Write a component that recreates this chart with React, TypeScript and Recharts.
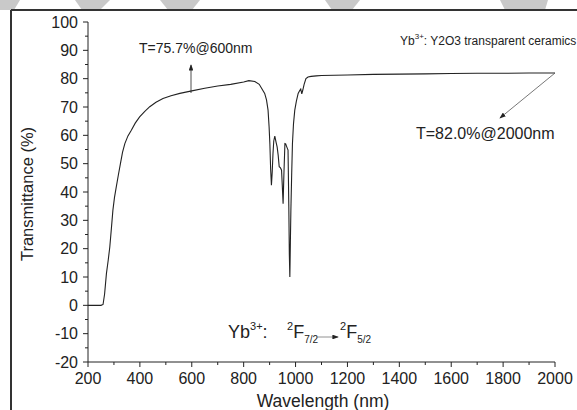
import { LineChart, Line, XAxis, YAxis } from 'recharts';

// wavelength (nm) and transmittance (%)
const wavelength = [
  200, 250, 258, 264, 271, 278, 284, 290, 296, 302, 309, 317, 325, 333, 342, 354, 367, 382, 399, 418,
  438, 462, 489, 520, 554, 600, 650, 700, 750, 800, 820, 843, 860, 869, 881, 888, 894, 898, 901, 904,
  907, 910, 913, 916, 920, 925, 929, 933, 937, 942, 946, 949, 952, 955, 959, 962, 965, 968, 971, 974,
  976, 978, 980, 982, 985, 988, 992, 997, 1003, 1010, 1016, 1020, 1024, 1028, 1033, 1040, 1048, 1060,
  1080, 1100, 1200, 1300, 1400, 1500, 1600, 1700, 1800, 1900, 2000,
];
const transmittance = [
  0, 0, 0.3, 4, 11.2, 16, 20.6, 27, 33.6, 38, 41.8, 46, 50, 54, 57.1, 59.8, 61.8, 64.3, 66.5, 68.4,
  70.1, 71.7, 73, 74, 74.8, 75.7, 76.6, 77.4, 78, 78.8, 79.3, 79, 78, 76.6, 74.8, 72.5, 68.9, 63, 57, 48,
  42.4, 47, 53.6, 58, 59.7, 57.5, 55.9, 53, 48.9, 48.5, 47.7, 42, 35.9, 46, 57.1, 57, 56.2, 55.5, 54.8, 35,
  18, 10, 22, 33.6, 46, 57, 64, 68.9, 72, 74.8, 75.8, 76.3, 74.6, 76, 78, 80, 80.6, 80.8,
  81, 81.1, 81.3, 81.5, 81.6, 81.7, 81.8, 81.9, 81.9, 82, 82,
];

const xTicks = [200, 300, 400, 500, 600, 700, 800, 900, 1000, 1100, 1200, 1300, 1400, 1500, 1600, 1700, 1800, 1900, 2000];
const yTicks = [-20, -15, -10, -5, 0, 5, 10, 15, 20, 25, 30, 35, 40, 45, 50, 55, 60, 65, 70, 75, 80, 85, 90, 95, 100];

const data = wavelength.map((w, i) => ({ w, t: transmittance[i] }));

const FONT = '"Liberation Sans", Arial, sans-serif';
const INK = '#222';

function XTick({ x, y, payload }: any) {
  const major = payload.value % 200 === 0;
  return (
    <g>
      <line x1={x} y1={y} x2={x} y2={y + (major ? 5 : 3)} stroke={INK} strokeWidth={1} />
      {major && (
        <text x={x} y={y + 22} textAnchor="middle" fontSize={16} fontFamily={FONT} fill={INK}>
          {payload.value}
        </text>
      )}
    </g>
  );
}

function YTick({ x, y, payload }: any) {
  const major = payload.value % 10 === 0;
  return (
    <g>
      <line x1={x} y1={y} x2={x - (major ? 5 : 3)} y2={y} stroke={INK} strokeWidth={1} />
      {major && (
        <text x={x - 10} y={y} dy="0.35em" textAnchor="end" fontSize={16} fontFamily={FONT} fill={INK}>
          {payload.value}
        </text>
      )}
    </g>
  );
}

export default function App() {
  return (
    <div style={{ position: 'absolute', left: 0, top: 0, width: 577, height: 410, background: '#fff', overflow: 'hidden' }}>
      <svg width={577} height={410} style={{ position: 'absolute', left: 0, top: 0 }}>
        <polygon points="0,0 20,0 14,10 0,10" fill="#c9c9c9" />
        <polygon points="75,0 110,0 100,10 82,10" fill="#c9c9c9" />
        <polygon points="160,0 200,0 192,10 168,10" fill="#c9c9c9" />
        <polygon points="325,0 360,0 352,10 332,10" fill="#c9c9c9" />
        <polygon points="500,0 548,0 545,10 505,10" fill="#c9c9c9" />
        <line x1={11} y1={10} x2={577} y2={10} stroke="#333" strokeWidth={2} />
        <line x1={11} y1={10} x2={11} y2={410} stroke="#333" strokeWidth={2} />
      </svg>
      <div style={{ position: 'absolute', left: 0, top: 0 }}>
        <LineChart width={577} height={410} data={data} margin={{ top: 22, right: 22, left: 28, bottom: 18 }}>
          <XAxis
            dataKey="w"
            type="number"
            domain={[200, 2000]}
            ticks={xTicks}
            interval={0}
            tick={<XTick />}
            tickSize={0}
            tickMargin={0}
            tickLine={false}
            height={30}
            axisLine={{ stroke: INK, strokeWidth: 1 }}
            allowDataOverflow
          />
          <YAxis
            type="number"
            domain={[-20, 100]}
            ticks={yTicks}
            interval={0}
            tick={<YTick />}
            tickSize={0}
            tickMargin={0}
            tickLine={false}
            width={60}
            axisLine={{ stroke: INK, strokeWidth: 1 }}
            allowDataOverflow
          />
          <Line dataKey="t" type="linear" stroke={INK} strokeWidth={1.1} dot={false} isAnimationActive={false} />
        </LineChart>
      </div>
      <svg width={577} height={410} style={{ position: 'absolute', left: 0, top: 0, pointerEvents: 'none' }}>
        <defs>
          <marker id="ah" markerWidth="8" markerHeight="6" refX="7" refY="3" orient="auto">
            <path d="M0,0 L8,3 L0,6 z" fill={INK} />
          </marker>
        </defs>
        <g fontFamily={FONT} fill={INK}>
          <text x={27} y={194} textAnchor="middle" fontSize={16.5} transform="rotate(-90 27 194)" dy="0.35em">
            Transmittance (%)
          </text>
          <text x={323} y={407} textAnchor="middle" fontSize={17.5}>Wavelength (nm)</text>

          <text x={139} y={53} fontSize={14}>T=75.7%@600nm</text>
          <line x1={191} y1={93} x2={191} y2={65} stroke={INK} strokeWidth={0.8} markerEnd="url(#ah)" />

          <text x={400} y={45} fontSize={12}>
            Yb<tspan fontSize={8} dy={-6}>3+</tspan><tspan fontSize={12} dy={6}>: Y2O3 transparent ceramics</tspan>
          </text>

          <line x1={555} y1={73} x2={500} y2={118} stroke="#555" strokeWidth={0.8} markerEnd="url(#ah)" />
          <text x={416} y={139} fontSize={16}>T=82.0%@2000nm</text>

          <text x={228} y={338} fontSize={18}>
            Yb<tspan fontSize={11} dy={-8}>3+</tspan><tspan dy={8}>:</tspan>
          </text>
          <text x={287} y={338} fontSize={18}>
            <tspan fontSize={11} dy={-8}>2</tspan><tspan dy={8}>F</tspan>
            <tspan fontSize={10} dy={5}>7/2</tspan>
          </text>
          <line x1={316} y1={337} x2={338} y2={337} stroke="#777" strokeWidth={0.8} markerEnd="url(#ah)" />
          <text x={340} y={338} fontSize={18}>
            <tspan fontSize={11} dy={-8}>2</tspan><tspan dy={8}>F</tspan>
            <tspan fontSize={10} dy={5}>5/2</tspan>
          </text>
        </g>
      </svg>
    </div>
  );
}
